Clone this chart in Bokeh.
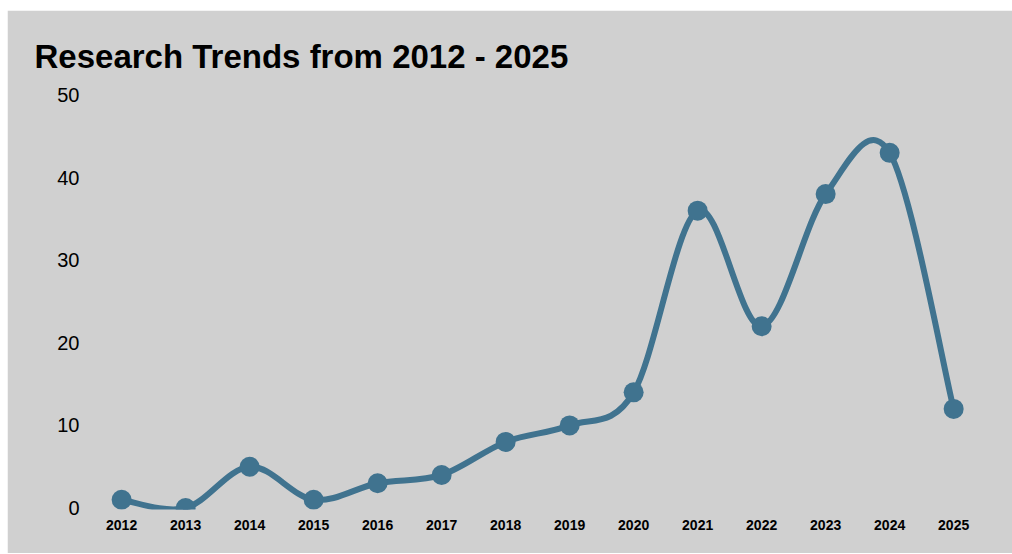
from bokeh.plotting import figure
from bokeh.models import FixedTicker, Range1d
from bokeh.embed import file_html
from bokeh.resources import INLINE

years = [2012, 2013, 2014, 2015, 2016, 2017, 2018, 2019, 2020, 2021, 2022, 2023, 2024, 2025]
counts = [1, 0, 5, 1, 3, 4, 8, 10, 14, 36, 22, 38, 43, 12]
y_ticks = [0, 10, 20, 30, 40, 50]

LINE = "#40738f"
BG = "#d0d0d0"

p = figure(width=1005, height=543, output_backend="svg", toolbar_location=None,
           x_range=Range1d(2011.67, 2025.81), y_range=Range1d(-0.18, 51.15),
           min_border_left=93, min_border_right=7, min_border_top=75, min_border_bottom=44)
p.margin = (10, 0, 1, 7)
p.background_fill_color = BG
p.border_fill_color = BG
p.outline_line_color = BG
p.outline_line_width = 3
p.xgrid.visible = False
p.ygrid.visible = False

p.title.text = "Research Trends from 2012 - 2025"
p.title.text_font = "Liberation Sans"
p.title.text_font_size = "33px"
p.title.text_font_style = "bold"
p.title.text_color = "black"
p.title.align = "left"
p.title.offset = -66
p.title.standoff = 22

for ax in (p.xaxis, p.yaxis):
    ax.axis_line_color = None
    ax.major_tick_line_color = None
    ax.minor_tick_line_color = None

p.xaxis.ticker = FixedTicker(ticks=years)
p.xaxis.major_label_text_font = "Liberation Sans"
p.xaxis.major_label_text_font_size = "14px"
p.xaxis.major_label_text_font_style = "bold"
p.xaxis.major_label_text_color = "black"
p.xaxis.major_label_standoff = 4

p.yaxis.ticker = FixedTicker(ticks=y_ticks)
p.yaxis.major_label_text_font = "Liberation Sans"
p.yaxis.major_label_text_font_size = "20px"
p.yaxis.major_label_text_color = "black"
p.yaxis.major_label_standoff = 15

# Catmull-Rom spline through the data, drawn as cubic Bezier segments
n = len(years)
x0, y0, x1, y1, cx0, cy0, cx1, cy1 = [], [], [], [], [], [], [], []
for i in range(n - 1):
    pm = max(i - 1, 0)
    pp = min(i + 2, n - 1)
    x0.append(years[i]); y0.append(counts[i])
    x1.append(years[i + 1]); y1.append(counts[i + 1])
    cx0.append(years[i] + (years[i + 1] - years[pm]) / 6)
    cy0.append(counts[i] + (counts[i + 1] - counts[pm]) / 6)
    cx1.append(years[i + 1] - (years[pp] - years[i]) / 6)
    cy1.append(counts[i + 1] - (counts[pp] - counts[i]) / 6)

p.bezier(x0=x0, y0=y0, x1=x1, y1=y1, cx0=cx0, cy0=cy0, cx1=cx1, cy1=cy1,
         line_color=LINE, line_width=6, line_cap="round")
p.scatter(years, counts, size=20, fill_color=LINE, line_color=LINE, line_width=0)

open("out.html", "w").write(file_html(p, INLINE))
